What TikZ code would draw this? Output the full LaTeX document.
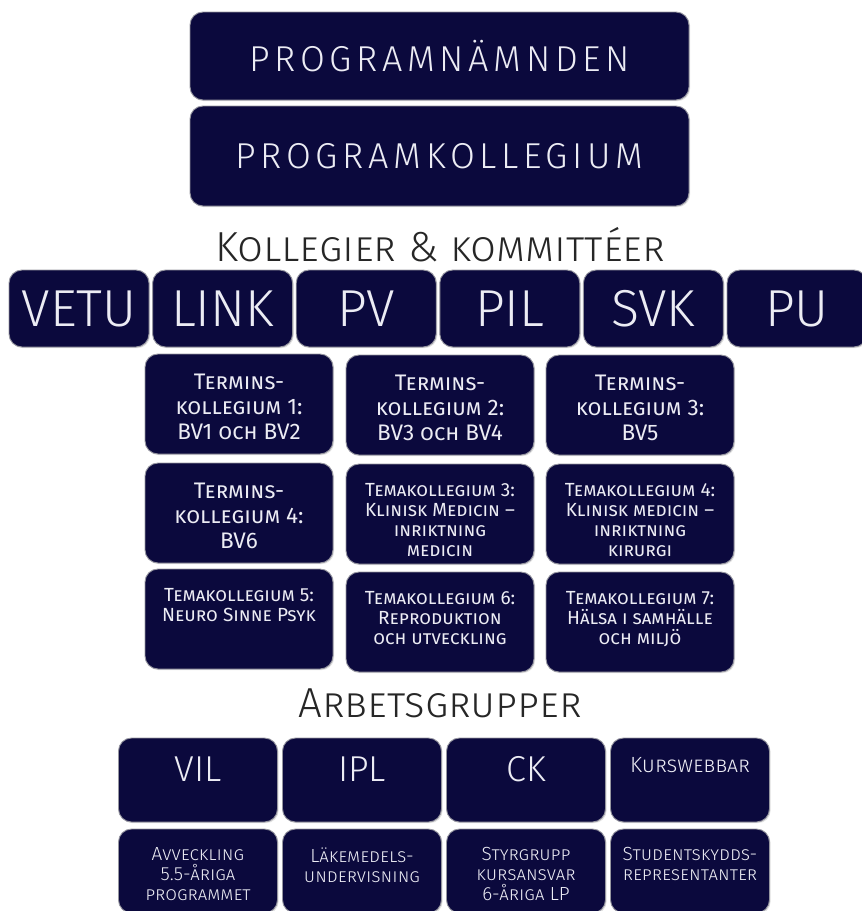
\documentclass[tikz,border=0pt]{standalone}
\usepackage{fontspec}
\setmainfont{Fira Sans Light}
\newfontfamily\widefont{Fira Sans Light}[LetterSpace=13]
\newfontfamily\gridfont{Fira Sans}
\usetikzlibrary{shadows}

\definecolor{boxfill}{RGB}{11,9,61}
\definecolor{boxrim}{RGB}{150,150,160}
\definecolor{boxtext}{RGB}{236,236,244}
\newcommand\gridPad{20pt}
\newcommand\gridbigfont{\gridfont\fontsize{22.5}{25}\selectfont\scshape}
\newcommand\gridsmallfont{\gridfont\fontsize{19}{20}\selectfont\scshape}

\begin{document}
\begin{tikzpicture}[x=1pt, y=-1pt,
    panel/.style={draw=boxrim, line width=0.9pt, fill=boxfill, rounded corners=13pt, inner sep=0pt,
        text=boxtext, align=center, drop shadow={opacity=0.25, shadow xshift=1.2pt, shadow yshift=-1.2pt}},
    paneltext/.style={text=boxtext, align=center, inner sep=0pt, anchor=north},
    heading/.style={text=black!85, font=\fontsize{42}{42}\selectfont\scshape}]
    \clip (0,0) rectangle (862,911);
    % Draw the two top boxes
    \node [panel, minimum width=499pt, minimum height=88pt, font=\widefont\fontsize{36}{36}\selectfont] (namnden) at (439.5,56) {PROGRAMNÄMNDEN};
    \node [panel, minimum width=499pt, minimum height=100pt, font=\widefont\fontsize{36}{36}\selectfont] (progkoll) at (439.5,156) {PROGRAMKOLLEGIUM};
    % Kollegier och kommitteer
    \node [heading] (kollegier) at (440,245) {Kollegier \& kommittéer};
    \foreach \name/\txt [count=\i from 0] in {vetu/VETU, link/LINK, pv/PV, pil/PIL, svk/SVK, pu/PU}
        \node [panel, minimum width=140pt, minimum height=77pt, font=\fontsize{52}{52}\selectfont] (\name) at (79+143.6*\i,308.5) {\txt};
    % Draw the grid of termins- and temakollegier
    \foreach \name/\cx/\cy/\sz/\txt in {%
        tk1/239/404/big/{Termins-\\kollegium 1:\\BV1 och BV2},
        tk2/440/405/big/{Termins-\\kollegium 2:\\BV3 och BV4},
        tk3/640/405/big/{Termins-\\kollegium 3:\\BV5},
        tk4/239/513/big/{Termins-\\kollegium 4:\\BV6},
        tema3/440/514/small/{Temakollegium 3:\\Klinisk Medicin –\\inriktning\\medicin},
        tema4/640/514/small/{Temakollegium 4:\\Klinisk medicin –\\inriktning\\kirurgi},
        tema5/239/619/small/{Temakollegium 5:\\Neuro Sinne Psyk},
        tema6/440/622/small/{Temakollegium 6:\\Reproduktion\\och utveckling},
        tema7/640/622/small/{Temakollegium 7:\\Hälsa i samhälle\\och miljö}} {
        \node [panel, minimum width=188pt, minimum height=100pt] (\name) at (\cx,\cy) {};
        \node [paneltext, font=\csname grid\sz font\endcsname] at ([yshift=-\gridPad]\name.north) {\txt};
    }
    % Arbetsgrupper
    \node [heading] (arbetsgrupper) at (440,703) {Arbetsgrupper};
    \foreach \name [count=\i from 0] in {vil, ipl, ck, webb}
        \node [panel, minimum width=159pt, minimum height=84pt] (\name) at (198+164*\i,780) {};
    \foreach \name/\txt in {vil/VIL, ipl/IPL, ck/CK}
        \node [paneltext, font=\fontsize{36}{36}\selectfont] at ([yshift=-19pt]\name.north) {\txt};
    \node [paneltext, font=\fontsize{22}{22}\selectfont\scshape] at ([yshift=-20pt]webb.north) {Kurswebbar};
    \foreach \name/\txt [count=\i from 0] in {%
        avveckling/{Avveckling\\5.5-åriga\\programmet},
        lakemedel/{Läkemedels-\\undervisning},
        styrgrupp/{Styrgrupp\\kursansvar\\6-åriga LP},
        skydd/{Studentskydds-\\representanter}} {
        \node [panel, minimum width=159pt, minimum height=84pt] (\name) at (198+164*\i,871) {};
        \node [paneltext, font=\fontsize{19}{20}\selectfont\scshape] at ([yshift=-19pt]\name.north) {\txt};
    }
\end{tikzpicture}
\end{document}
